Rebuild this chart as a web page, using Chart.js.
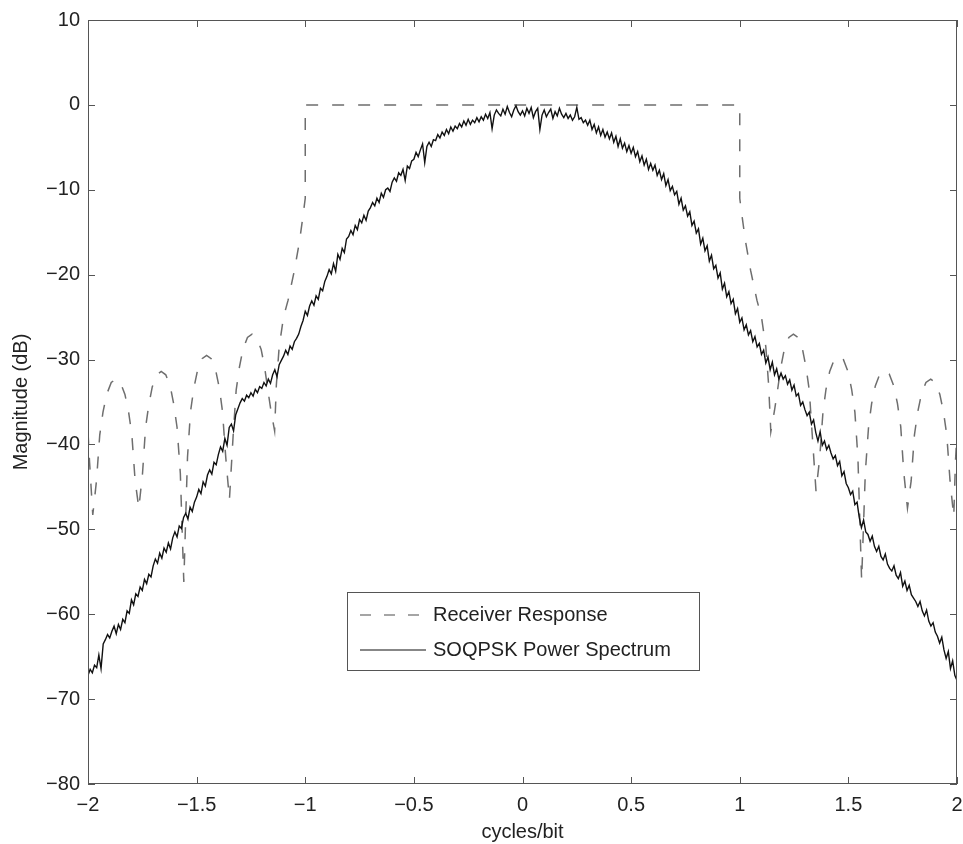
<!DOCTYPE html>
<html>
<head>
<meta charset="utf-8">
<script src="https://cdn.jsdelivr.net/npm/chart.js@4/dist/chart.umd.min.js"></script>
<style>
  body { margin: 0; background: #fff; }
  canvas { display: block; }
</style>
</head>
<body>
<canvas id="spectrum" width="963" height="844"></canvas>
<script>
// Receiver response (dashed)
const rxFreq = [
  -2.0, -1.993, -1.978,
  -1.961, -1.946, -1.931, -1.914, -1.893, -1.872, -1.851, -1.830, -1.813, -1.798, -1.783, -1.766,
  -1.749, -1.735, -1.720, -1.704, -1.683, -1.663, -1.642, -1.621, -1.605, -1.590, -1.575, -1.559,
  -1.542, -1.528, -1.513, -1.496, -1.475, -1.454, -1.433, -1.412, -1.395, -1.381, -1.366, -1.349,
  -1.332, -1.318, -1.303, -1.287, -1.266, -1.245, -1.224, -1.203, -1.187, -1.172, -1.158, -1.141,
  -1.133, -1.12, -1.10, -1.079, -1.05, -1.026, -1.01, -1.0, -1.0,
  1.0, 1.0, 1.01, 1.026, 1.05, 1.079, 1.10, 1.12, 1.133, 1.143,
  1.160, 1.174, 1.189, 1.205, 1.226, 1.247, 1.268, 1.289, 1.305, 1.320, 1.334, 1.351,
  1.368, 1.383, 1.397, 1.414, 1.435, 1.456, 1.477, 1.498, 1.515, 1.530, 1.544, 1.561,
  1.578, 1.593, 1.607, 1.624, 1.645, 1.667, 1.688, 1.709, 1.726, 1.741, 1.755, 1.772,
  1.789, 1.804, 1.819, 1.836, 1.857, 1.879, 1.900, 1.921, 1.938, 1.953, 1.968, 1.985,
  1.993, 2.0
];
const rxMag = [
  -38.5, -42, -48.3,
  -44.3, -38.9, -36.2, -34.1, -32.7, -32.3, -32.7, -34.1, -36.2, -38.9, -44.3, -47.5,
  -43.4, -38.0, -35.3, -33.2, -31.8, -31.4, -31.8, -33.2, -35.3, -38.0, -43.4, -56.2,
  -41.5, -36.1, -33.4, -31.3, -29.9, -29.5, -29.9, -31.3, -33.4, -36.1, -41.5, -46.5,
  -39.0, -33.6, -30.9, -28.8, -27.4, -27.0, -27.4, -28.8, -30.9, -33.6, -36.0, -38.4,
  -33, -28.5, -25, -23, -19.5, -16, -13, -11, 0,
  0, -11, -13, -16, -19.5, -23, -25, -28.5, -33, -38.5,
  -36.0, -33.6, -30.9, -28.8, -27.4, -27.0, -27.4, -28.8, -30.9, -33.6, -39.0, -45.5,
  -41.6, -36.2, -33.5, -31.4, -30.0, -29.6, -30.0, -31.4, -33.5, -36.2, -41.6, -56.0,
  -43.3, -37.9, -35.2, -33.1, -31.7, -31.3, -31.7, -33.1, -35.2, -37.9, -43.3, -47.5,
  -44.3, -38.9, -36.2, -34.1, -32.7, -32.3, -32.7, -34.1, -36.2, -38.9, -44.3, -48.5,
  -42, -38.5
];

// SOQPSK power spectrum (solid), one value every 0.01 cycles/bit from -2 to 2
const specStart = -2;
const specStep = 0.01;
const specMag = [
  -67.2, -66.5, -66.9, -66.0, -66.3, -64.8, -66.4, -63.5, -63.0, -62.4,
  -62.8, -62.0, -61.4, -62.3, -61.2, -61.8, -60.6, -61.0, -59.6, -59.9,
  -58.3, -58.9, -57.6, -57.9, -56.8, -57.2, -55.9, -56.4, -55.3, -55.6,
  -54.3, -53.5, -54.0, -52.8, -53.4, -52.2, -52.7, -51.6, -52.3, -51.0,
  -50.3, -50.9, -49.6, -49.9, -48.6, -48.1, -48.8, -47.4, -47.9, -46.8,
  -46.2, -45.3, -45.8, -44.4, -44.9, -43.6, -43.0, -43.5, -42.1, -42.4,
  -41.2, -40.3, -40.8, -39.3, -40.1, -38.0, -37.6, -38.4, -36.5, -35.8,
  -35.1, -34.6, -34.9, -34.2, -34.5, -33.9, -34.3, -33.5, -33.9, -33.2,
  -33.4, -32.7, -33.1, -32.3, -32.8, -31.8, -31.2, -32.0, -30.6, -30.1,
  -29.6, -28.9, -29.4, -28.4, -28.8, -27.9, -27.5, -27.0, -26.1, -25.4,
  -24.3, -24.8, -23.7, -23.1, -23.6, -22.5, -22.9, -21.6, -21.9, -20.8,
  -20.2, -19.4, -19.9, -18.7, -19.6, -17.6, -18.2, -16.9, -17.4, -15.8,
  -15.5, -14.8, -15.3, -14.2, -14.7, -13.5, -13.9, -13.0, -13.6, -12.5,
  -12.1, -11.5, -11.9, -11.0, -11.5, -10.4, -10.9, -10.0, -9.8, -10.2,
  -9.1, -8.6, -9.0, -8.0, -8.3, -7.6, -8.9, -7.2, -7.5, -6.6,
  -6.4, -5.6, -6.1, -5.3, -4.6, -6.8, -4.9, -4.4, -4.9, -4.1,
  -4.2, -3.5, -3.9, -3.2, -3.6, -2.9, -3.4, -2.6, -3.1, -2.5,
  -2.8, -2.2, -2.6, -1.9, -2.4, -1.7, -2.3, -1.8, -2.1, -1.5,
  -2.0, -1.4, -1.8, -1.1, -1.6, -0.9, -2.8, -1.2, -0.6, -1.0,
  -1.3, -0.5, -1.1, -0.2, -0.9, -1.4, -0.6, -0.1, -0.8, -1.2,
  -0.7, -1.3, -0.4, -1.0, -0.3, -1.5, -0.8, -0.4, -2.9, -1.2,
  -0.6, -1.4, -0.9, -0.5, -1.6, -0.8, -1.3, -0.4, -1.1, -1.5,
  -1.0, -1.6, -1.2, -1.8, -1.4, -0.3, -1.7, -1.5, -2.1, -1.8,
  -2.4, -1.8, -2.9, -2.3, -3.3, -2.6, -3.6, -2.9, -3.8, -3.2,
  -4.0, -3.3, -4.4, -3.7, -4.9, -4.0, -5.1, -4.5, -5.5, -4.8,
  -5.7, -5.0, -6.1, -5.5, -6.7, -6.0, -7.1, -6.4, -7.6, -6.9,
  -7.7, -7.1, -8.3, -7.7, -8.8, -8.1, -9.5, -8.8, -10.1, -9.6,
  -10.6, -10.2, -11.7, -11.0, -12.4, -11.9, -13.1, -12.6, -14.2, -13.7,
  -15.1, -14.6, -16.4, -15.7, -17.2, -16.6, -18.4, -17.7, -19.3, -18.9,
  -20.4, -19.8, -21.7, -21.0, -22.6, -22.0, -23.4, -22.9, -24.6, -24.0,
  -25.6, -25.1, -26.5, -25.9, -27.1, -26.6, -27.9, -27.3, -28.5, -28.1,
  -29.4, -28.9, -30.4, -29.7, -31.2, -30.3, -31.8, -31.1, -32.3, -31.6,
  -32.3, -31.9, -32.9, -32.4, -33.6, -33.0, -34.3, -34.0, -35.4, -35.0,
  -35.9, -36.6, -36.2, -37.6, -37.1, -38.6, -39.6, -38.5, -40.1, -39.6,
  -40.6, -40.1, -41.0, -41.7, -41.3, -42.5, -42.0, -43.7, -43.2, -44.6,
  -45.1, -45.9, -45.5, -47.1, -46.8, -48.6, -49.8, -48.9, -50.3, -50.6,
  -51.4, -50.8, -52.0, -52.6, -52.0, -53.2, -53.6, -52.9, -54.1, -54.6,
  -54.9, -54.3, -55.4, -55.8, -55.1, -56.7, -56.1, -57.2, -56.6, -57.7,
  -58.1, -58.5, -59.1, -58.5, -59.6, -60.2, -59.5, -60.8, -61.4, -61.0,
  -62.1, -62.6, -63.4, -62.7, -64.2, -65.2, -64.4, -66.4, -65.5, -67.2,
  -67.8
];

const xTicks = [-2, -1.5, -1, -0.5, 0, 0.5, 1, 1.5, 2];
const yTicks = [-80, -70, -60, -50, -40, -30, -20, -10, 0, 10];
const legendLabels = ['Receiver Response', 'SOQPSK Power Spectrum'];

const FONT = "'Liberation Sans', Arial, Helvetica, sans-serif";
const rxColor = '#6e6e6e';
const rxDash = [12, 14];

const rxPoints = rxFreq.map((f, i) => ({ x: f, y: rxMag[i] }));
const specPoints = specMag.map((v, i) => ({ x: +(specStart + i * specStep).toFixed(2), y: v }));

function fmt(v) {
  return String(v).replace('-', '\u2212');
}

// box, inward ticks and legend, matlab style
const frame = {
  id: 'frame',
  afterDatasetsDraw(chart) {
    const { ctx, chartArea: a, scales: { x, y } } = chart;
    ctx.save();
    ctx.strokeStyle = '#555';
    ctx.lineWidth = 1;
    ctx.setLineDash([]);
    ctx.strokeRect(a.left + 0.5, a.top + 0.5, a.right - a.left - 1, a.bottom - a.top - 1);
    const len = 7;
    ctx.beginPath();
    xTicks.forEach(t => {
      const px = Math.round(x.getPixelForValue(t)) + 0.5;
      ctx.moveTo(px, a.bottom); ctx.lineTo(px, a.bottom - len);
      ctx.moveTo(px, a.top); ctx.lineTo(px, a.top + len);
    });
    yTicks.forEach(t => {
      const py = Math.round(y.getPixelForValue(t)) + 0.5;
      ctx.moveTo(a.left, py); ctx.lineTo(a.left + len, py);
      ctx.moveTo(a.right, py); ctx.lineTo(a.right - len, py);
    });
    ctx.stroke();

    // legend
    const lx = 347, ly = 592, lw = 352, lh = 78;
    ctx.fillStyle = '#fff';
    ctx.fillRect(lx, ly, lw, lh);
    ctx.strokeStyle = '#555';
    ctx.strokeRect(lx + 0.5, ly + 0.5, lw, lh);
    const rows = [ly + 23, ly + 58];
    ctx.lineWidth = 1.5;
    ctx.strokeStyle = '#888';
    ctx.setLineDash([11, 13]);
    ctx.beginPath(); ctx.moveTo(360, rows[0]); ctx.lineTo(426, rows[0]); ctx.stroke();
    ctx.setLineDash([]);
    ctx.strokeStyle = '#111';
    ctx.lineWidth = 1.2;
    ctx.beginPath(); ctx.moveTo(360, rows[1]); ctx.lineTo(426, rows[1]); ctx.stroke();
    ctx.fillStyle = '#222';
    ctx.font = '20px ' + FONT;
    ctx.textBaseline = 'middle';
    ctx.textAlign = 'left';
    ctx.fillText(legendLabels[0], 433, rows[0]);
    ctx.fillText(legendLabels[1], 433, rows[1]);
    ctx.restore();
  }
};

new Chart(document.getElementById('spectrum'), {
  type: 'line',
  data: {
    datasets: [
      {
        label: legendLabels[1],
        data: specPoints,
        borderColor: '#111',
        borderWidth: 1.4,
        pointRadius: 0,
        tension: 0
      },
      {
        label: legendLabels[0],
        data: rxPoints,
        borderColor: rxColor,
        borderWidth: 1.5,
        borderDash: rxDash,
        pointRadius: 0,
        tension: 0
      }
    ]
  },
  options: {
    responsive: false,
    animation: false,
    layout: { padding: { top: 19, right: 6, left: 0, bottom: 0 } },
    plugins: { legend: { display: false }, tooltip: { enabled: false } },
    scales: {
      x: {
        type: 'linear',
        min: -2,
        max: 2,
        afterFit: s => { s.height = 60; s.paddingLeft = 0; s.paddingRight = 0; },
        afterBuildTicks: s => { s.ticks = xTicks.map(v => ({ value: v })); },
        grid: { display: false, drawTicks: false },
        border: { display: false },
        ticks: {
          padding: 9,
          color: '#222',
          font: { family: FONT, size: 20 },
          maxRotation: 0,
          callback: v => fmt(v)
        },
        title: {
          display: true,
          text: 'cycles/bit',
          color: '#222',
          font: { family: FONT, size: 20 },
          padding: { top: 0, bottom: 0 }
        }
      },
      y: {
        min: -80,
        max: 10,
        afterFit: s => { s.width = 88; },
        afterBuildTicks: s => { s.ticks = yTicks.map(v => ({ value: v })); },
        grid: { display: false, drawTicks: false },
        border: { display: false },
        ticks: {
          padding: 8,
          color: '#222',
          font: { family: FONT, size: 20 },
          callback: v => fmt(v)
        },
        title: {
          display: true,
          text: 'Magnitude (dB)',
          color: '#222',
          font: { family: FONT, size: 20 },
          padding: { top: 9, bottom: 0 }
        }
      }
    }
  },
  plugins: [frame]
});
</script>
</body>
</html>
